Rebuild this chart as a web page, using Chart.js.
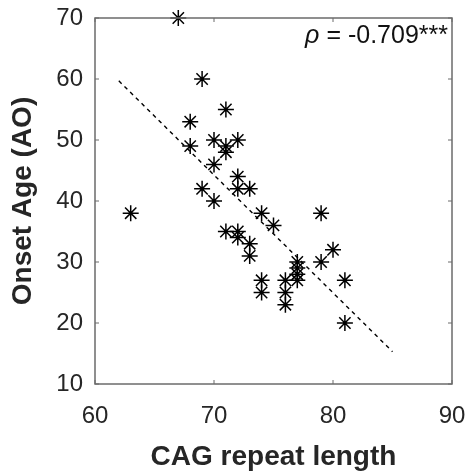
<!DOCTYPE html>
<html>
<head>
<meta charset="utf-8">
<script src="https://cdn.jsdelivr.net/npm/chart.js@4"></script>
<style>
  html, body { margin: 0; padding: 0; background: #fff; }
  #wrap { width: 467px; height: 474px; }
</style>
</head>
<body>
<div id="wrap"><canvas id="chart" width="467" height="474"></canvas></div>
<script>
// CAG repeat length vs onset age
const cagLength = [67, 69, 71, 68, 68, 70, 71, 71, 72, 70, 72, 69, 72, 73, 70, 63, 74, 75, 71, 72,
                   72, 73, 73, 74, 74, 79, 80, 79, 77, 77, 77, 77, 76, 76, 76, 81, 81];
const onsetAge  = [70, 60, 55, 53, 49, 50, 49, 48, 50, 46, 44, 42, 42, 42, 40, 38, 38, 36, 35, 35,
                   34, 33, 31, 27, 25, 38, 32, 30, 30, 29, 28, 27, 27, 25, 23, 27, 20];
// regression line end points
const fitX = [62, 85];
const fitY = [59.7, 15.3];
const xTicks = [60, 70, 80, 90];
const yTicks = [10, 20, 30, 40, 50, 60, 70];
const rhoText = '-0.709***';

const font = '"Liberation Sans", Arial, Helvetica, sans-serif';
const frameColor = '#6b6b6b';
const textColor = '#262626';

// box + inward tick marks + rho label
const framePlugin = {
    id: 'frame',
    afterDraw(chart) {
        const ctx = chart.ctx;
        const a = chart.chartArea;
        const xs = chart.scales.x, ys = chart.scales.y;
        ctx.save();
        ctx.strokeStyle = frameColor;
        ctx.lineWidth = 1.5;
        ctx.strokeRect(a.left, a.top, a.right - a.left, a.bottom - a.top);
        ctx.lineWidth = 1;
        ctx.beginPath();
        xTicks.forEach(v => {
            const px = xs.getPixelForValue(v);
            ctx.moveTo(px, a.bottom); ctx.lineTo(px, a.bottom - 4);
            ctx.moveTo(px, a.top); ctx.lineTo(px, a.top + 4);
        });
        yTicks.forEach(v => {
            const py = ys.getPixelForValue(v);
            ctx.moveTo(a.left, py); ctx.lineTo(a.left + 4, py);
            ctx.moveTo(a.right, py); ctx.lineTo(a.right - 4, py);
        });
        ctx.stroke();

        // rho annotation, top right
        ctx.fillStyle = '#111';
        ctx.textBaseline = 'alphabetic';
        ctx.textAlign = 'right';
        ctx.font = '25px ' + font;
        const rest = ' = ' + rhoText;
        const restW = ctx.measureText(rest).width;
        const xr = a.right - 4, yb = a.top + 25;
        ctx.fillText(rest, xr, yb);
        ctx.font = 'italic 25px ' + font;
        ctx.fillText('\u03c1', xr - restW, yb);
        ctx.restore();
    }
};

const ctx = document.getElementById('chart').getContext('2d');
new Chart(ctx, {
    type: 'scatter',
    data: {
        datasets: [{
            label: 'AO',
            data: cagLength.map((x, i) => ({ x: x, y: onsetAge[i] })),
            pointStyle: 'star',
            pointRadius: 8,
            pointHoverRadius: 8,
            borderColor: '#000',
            backgroundColor: '#000',
            borderWidth: 1.5,
            clip: false
        }, {
            label: 'fit',
            type: 'line',
            data: fitX.map((x, i) => ({ x: x, y: fitY[i] })),
            borderColor: '#000',
            borderWidth: 1.4,
            borderDash: [4, 4],
            pointRadius: 0,
            fill: false
        }]
    },
    options: {
        responsive: false,
        animation: false,
        layout: { padding: { top: 18, right: 15, left: 0, bottom: 0 } },
        plugins: {
            legend: { display: false },
            tooltip: { enabled: false }
        },
        scales: {
            x: {
                type: 'linear',
                min: 60, max: 90,
                afterBuildTicks: s => { s.ticks = xTicks.map(v => ({ value: v })); },
                afterFit: s => { s.height = 90; s.paddingLeft = 0; s.paddingRight = 0; },
                grid: { display: false, drawTicks: false },
                border: { display: false },
                ticks: { padding: 18, color: textColor, font: { family: font, size: 24 } },
                title: {
                    display: true,
                    text: 'CAG repeat length',
                    color: textColor,
                    padding: { top: 0, bottom: 0 },
                    font: { family: font, size: 28, weight: 'bold' }
                }
            },
            y: {
                type: 'linear',
                min: 10, max: 70,
                afterBuildTicks: s => { s.ticks = yTicks.map(v => ({ value: v })); },
                afterFit: s => { s.width = 95; s.paddingTop = 0; s.paddingBottom = 0; },
                grid: { display: false, drawTicks: false },
                border: { display: false },
                ticks: { padding: 12, color: textColor, font: { family: font, size: 24 } },
                title: {
                    display: true,
                    text: 'Onset Age (AO)',
                    color: textColor,
                    padding: { top: 6, bottom: 0 },
                    font: { family: font, size: 28, weight: 'bold' }
                }
            }
        }
    },
    plugins: [framePlugin]
});
</script>
</body>
</html>
